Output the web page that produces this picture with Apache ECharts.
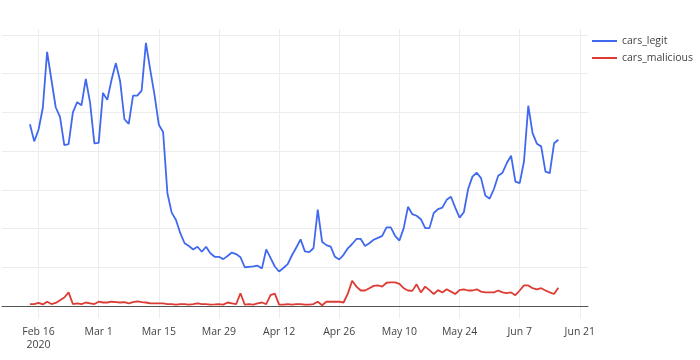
<!DOCTYPE html>
<html>
<head>
<meta charset="utf-8">
<script src="https://cdn.jsdelivr.net/npm/echarts@6/dist/echarts.min.js"></script>
<style>html,body{margin:0;padding:0;background:#fff}#c{width:700px;height:360px}</style>
</head>
<body>
<div id="c"></div>
<script>
const startDate = '2020-02-14';
const seriesNames = ['cars_legit', 'cars_malicious'];
const legit = [46.9,42.5,45.5,51.1,65.6,58.4,51.3,48.8,41.5,41.8,
50.0,52.6,51.8,58.6,52.5,42.0,42.1,55.0,53.2,58.4,
62.7,58.0,48.2,47.0,54.3,54.3,55.6,67.9,61.0,54.5,
46.8,44.9,29.1,24.1,22.2,18.8,16.2,15.5,14.6,15.3,
14.0,15.3,13.6,12.7,12.7,12.1,12.9,13.8,13.4,12.6,
10.0,10.1,10.2,10.4,9.7,14.6,12.4,10.2,8.9,9.8,
10.8,13.1,15.1,17.2,14.1,13.9,14.9,24.9,16.6,15.7,
15.3,12.7,12.0,13.2,14.9,16.0,17.3,17.3,15.5,16.2,
17.1,17.6,18.1,20.3,20.3,18.1,16.9,20.1,25.6,23.7,
23.3,22.4,20.1,20.1,24.0,25.0,25.4,27.4,28.2,25.4,
22.8,24.2,30.2,33.4,34.4,33.0,28.5,27.7,30.2,33.6,
34.4,36.9,38.8,32.1,31.7,37.3,51.7,44.6,41.9,41.2,
34.7,34.3,42.0,42.9];
const malicious = [0.5,0.5,0.8,0.4,1.1,0.5,0.8,1.5,2.2,3.5,
0.5,0.7,0.5,0.9,0.7,0.5,1.1,0.9,0.9,1.1,
1.0,0.9,1.0,0.7,1.0,1.2,1.0,0.9,0.7,0.7,
0.7,0.7,0.5,0.5,0.35,0.5,0.5,0.35,0.5,0.7,
0.5,0.5,0.35,0.4,0.5,0.35,0.9,0.7,0.5,3.3,
0.35,0.5,0.35,0.7,0.9,0.5,2.8,3.2,0.35,0.35,
0.5,0.35,0.5,0.5,0.35,0.35,0.5,1.1,0.2,1.1,
1.1,1.1,1.1,0.9,3.2,6.5,5.0,4.0,4.0,4.6,
5.2,5.3,5.0,6.0,6.1,6.1,5.7,4.6,4.0,3.9,
5.6,3.5,5.0,4.1,3.1,4.1,3.5,4.3,3.7,3.1,
4.1,4.3,4.0,4.0,4.3,3.7,3.5,3.5,3.5,4.0,
3.5,3.3,3.5,2.8,4.0,5.3,5.3,4.6,4.3,4.6,
4.0,3.5,3.1,4.7];
const tickDates = ['2020-02-16','2020-03-01','2020-03-15','2020-03-29','2020-04-12','2020-04-26','2020-05-10','2020-05-24','2020-06-07','2020-06-21'];
const tickLabels = ['Feb 16\n2020','Mar 1','Mar 15','Mar 29','Apr 12','Apr 26','May 10','May 24','Jun 7','Jun 21'];
const yGridValues = [0,10,20,30,40,50,60,70];

const DAY = 86400000;
const t0 = Date.parse(startDate + 'T00:00:00Z');
const dates = legit.map((_, i) => t0 + i * DAY);
const tickTimes = tickDates.map(d => Date.parse(d + 'T00:00:00Z'));

const chart = echarts.init(document.getElementById('c'), null, {renderer: 'canvas'});
const font = '"Open Sans", "DejaVu Sans", sans-serif';
chart.setOption({
  animation: false,
  backgroundColor: '#fff',
  grid: {left: 2, right: 112, top: 29, bottom: 42, containLabel: false},
  legend: {
    orient: 'vertical', left: 592, top: 34, padding: 0, itemGap: 3,
    icon: 'rect', itemWidth: 25, itemHeight: 2,
    textStyle: {fontFamily: font, fontSize: 10.5, color: '#444', lineHeight: 14},
    data: seriesNames
  },
  xAxis: {
    type: 'value',
    min: t0 - 6.5 * DAY,
    max: t0 + 129.9 * DAY,
    axisLine: {show: true, onZero: true, lineStyle: {color: '#555', width: 1}},
    axisTick: {show: false, customValues: tickTimes},
    axisLabel: {
      customValues: tickTimes,
      margin: 8, color: '#444', fontFamily: font, fontSize: 10.5, lineHeight: 13,
      formatter: v => { const k = tickTimes.indexOf(v); return k >= 0 ? tickLabels[k] : ''; }
    },
    splitLine: {show: true, lineStyle: {color: '#ececec', width: 1}}
  },
  yAxis: {
    type: 'value',
    min: -3.1, max: 71.5,
    axisLine: {show: false},
    axisTick: {show: false, customValues: yGridValues},
    axisLabel: {show: false, customValues: yGridValues},
    splitLine: {show: true, lineStyle: {color: '#ececec', width: 1}}
  },
  series: [
    {name: seriesNames[0], type: 'line', showSymbol: false, symbol: 'none',
     data: dates.map((d, i) => [d, legit[i]]),
     lineStyle: {color: '#4169ef', width: 1.8}, itemStyle: {color: '#4169ef'}, z: 3},
    {name: seriesNames[1], type: 'line', showSymbol: false, symbol: 'none',
     data: dates.map((d, i) => [d, malicious[i]]),
     lineStyle: {color: '#dc3c33', width: 1.8}, itemStyle: {color: '#dc3c33'}, z: 2}
  ]
});
</script>
</body>
</html>
